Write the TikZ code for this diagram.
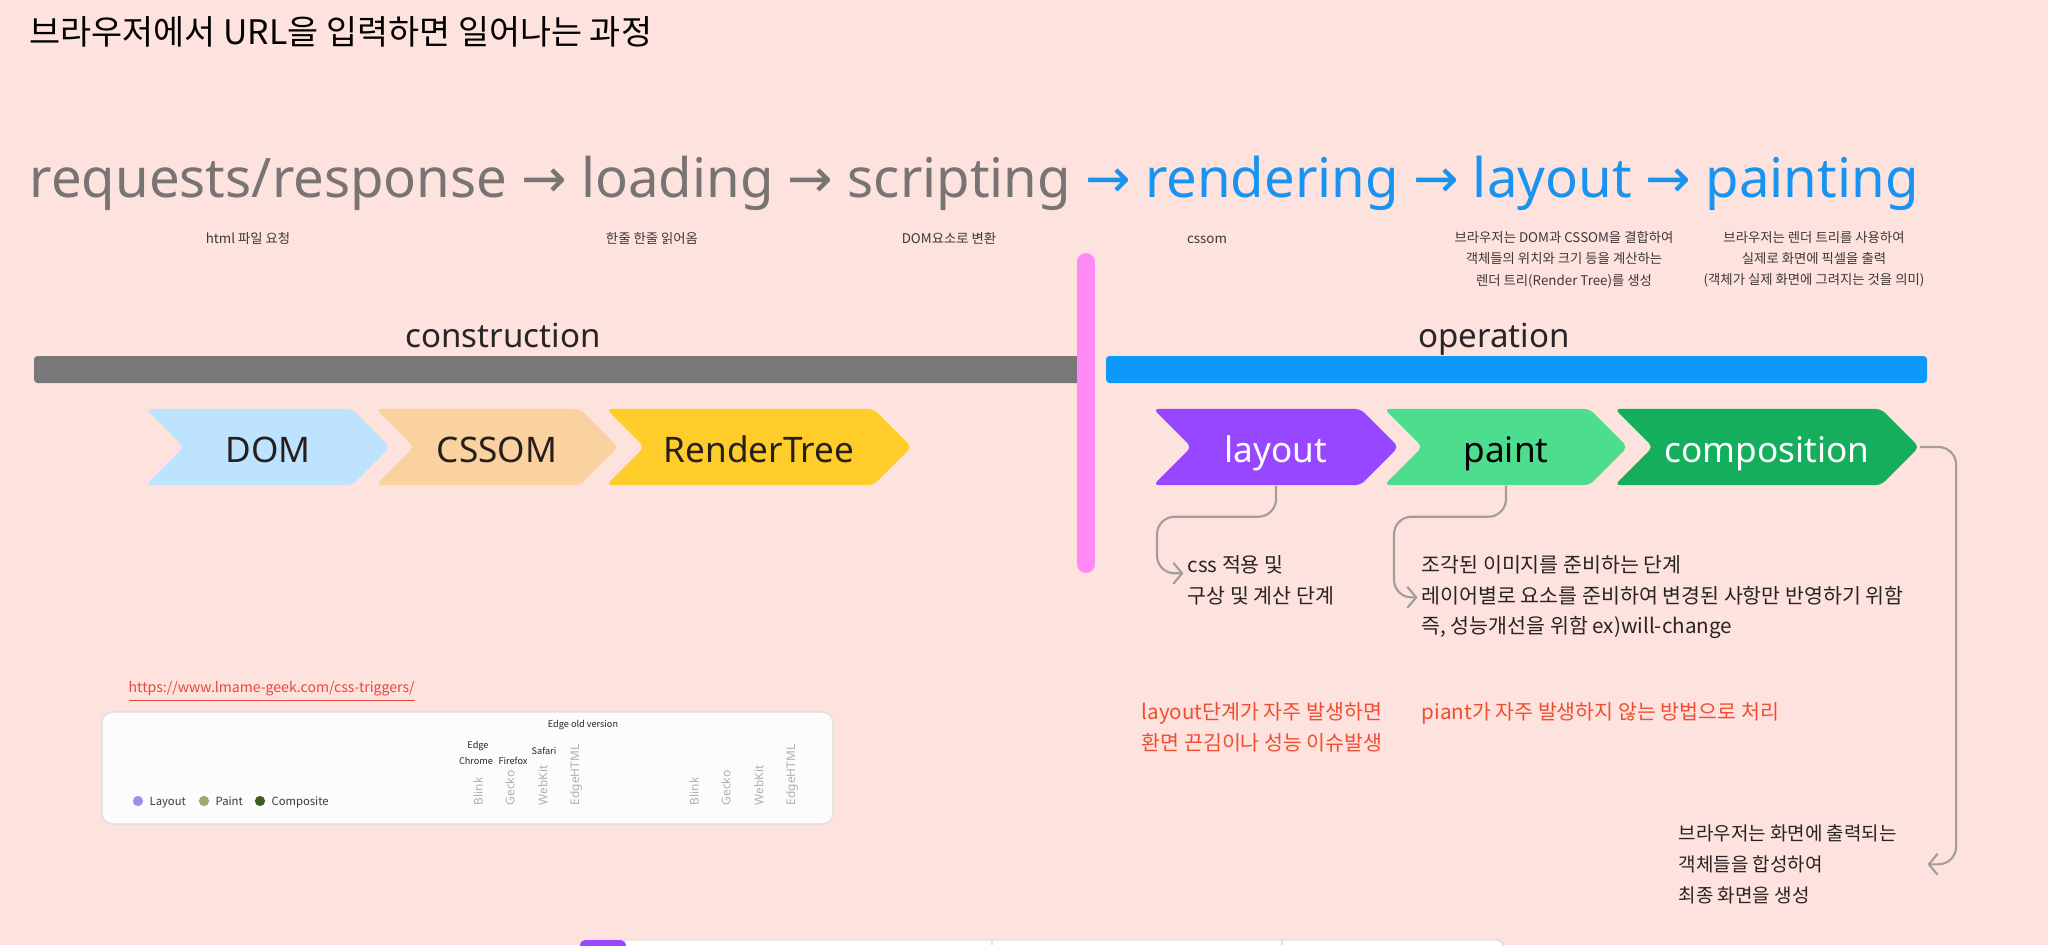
\documentclass[tikz,border=0pt]{standalone}
\usepackage{fontspec}
\setmainfont{Noto Sans CJK KR}
\newfontfamily\latinfont{Noto Sans}
\newfontfamily\arrowfont{DejaVu Sans}
\usetikzlibrary{shapes.symbols,arrows.meta}

\definecolor{bgpink}{RGB}{253,226,221}
\definecolor{flowgrey}{RGB}{120,116,116}
\definecolor{flowblue}{RGB}{24,148,240}
\definecolor{notegrey}{RGB}{60,56,56}
\definecolor{bodytext}{RGB}{40,36,36}
\definecolor{warnred}{RGB}{240,78,50}
\definecolor{urlred}{RGB}{232,72,62}
\definecolor{greybar}{RGB}{122,119,120}
\definecolor{bluebar}{RGB}{13,153,250}
\definecolor{pinkbar}{RGB}{255,138,245}
\definecolor{domblue}{RGB}{189,227,255}
\definecolor{cssompeach}{RGB}{250,210,160}
\definecolor{treeyellow}{RGB}{255,205,41}
\definecolor{layoutpurple}{RGB}{151,71,255}
\definecolor{paintgreen}{RGB}{76,222,142}
\definecolor{compgreen}{RGB}{20,174,92}
\definecolor{chevtext}{RGB}{40,30,30}
\definecolor{conngrey}{RGB}{163,156,156}
\definecolor{cardline}{RGB}{226,220,220}
\definecolor{enginegrey}{RGB}{176,176,176}
\definecolor{dotlayout}{RGB}{155,140,240}
\definecolor{dotpaint}{RGB}{154,170,112}
\definecolor{dotcomp}{RGB}{61,92,30}

\newcommand\arr{{\arrowfont →}}

\tikzset{
  txt/.style={inner sep=0pt},
  note/.style={inner sep=0pt, anchor=base, align=center, text=notegrey,
    font=\fontsize{3.8}{6}\selectfont},
  phase/.style={inner sep=0pt, anchor=base, text=black!85,
    font=\latinfont\fontsize{9.4}{11}\selectfont},
  chevron/.style={signal, signal from=west, signal to=east,
    signal pointer angle=90, minimum height=0.76cm, inner sep=0pt,
    text height=8.6pt, text depth=0pt,
    rounded corners=1.5pt, text=chevtext,
    font=\latinfont\fontsize{10}{12}\selectfont},
  body/.style={inner sep=0pt, anchor=north west, align=left, text=bodytext,
    font=\fontsize{5.85}{8.7}\selectfont},
  warn/.style={body, text=warnred},
  conn/.style={draw=conngrey, line width=0.6pt, rounded corners=5pt,
    -{Straight Barb[length=2.5pt,width=6pt]}},
  tiny/.style={inner sep=0pt, text=bodytext, font=\fontsize{2.6}{3}\selectfont},
  legend/.style={inner sep=0pt, anchor=base west, text=notegrey,
    font=\fontsize{3.2}{4}\selectfont},
  engine/.style={inner sep=0pt, rotate=90, anchor=west, text=enginegrey,
    font=\latinfont\fontsize{3.4}{4}\selectfont},
}

\begin{document}
\begin{tikzpicture}[x=0.01cm,y=-0.01cm]
  \useasboundingbox (0,0) rectangle (2048,945);
  \fill[bgpink] (0,0) rectangle (2048,945);

  % title and flow line
  \node[txt, anchor=base west, font=\fontsize{9.6}{11}\selectfont] (title) at (29,44)
    {브라우저에서 URL을 입력하면 일어나는 과정};
  \node[txt, anchor=base west, text=flowgrey, font=\latinfont\fontsize{15.5}{18}\selectfont] (flow) at (29,197)
    {requests/response \arr{} loading \arr{} scripting \textcolor{flowblue}{\arr{} rendering \arr{} layout \arr{} painting}};

  % step notes
  \node[note] (htmlnote) at (248,243) {html 파일 요청};
  \node[note] (loadnote) at (652,243) {한줄 한줄 읽어옴};
  \node[note] (domnote) at (949,243) {DOM요소로 변환};
  \node[note] (cssomnote) at (1207,243) {cssom};
  \node[note, anchor=north] (layoutnote) at (1564,231)
    {브라우저는 DOM과 CSSOM을 결합하여\\객체들의 위치와 크기 등을 계산하는\\렌더 트리(Render Tree)를 생성};
  \node[note, anchor=north] (paintingnote) at (1814,231)
    {브라우저는 렌더 트리를 사용하여\\실제로 화면에 픽셀을 출력\\(객체가 실제 화면에 그려지는 것을 의미)};

  % phases
  \node[phase] (construction) at (503,347) {construction};
  \node[phase] (operation) at (1494,347) {operation};
  \fill[greybar, rounded corners=1pt] (34,356) rectangle (1082,383);
  \fill[bluebar, rounded corners=1pt] (1106,356) rectangle (1927,383);
  \draw[pinkbar, line width=5.1pt, line cap=round] (1086,262) -- (1086,564);

  % chevrons
  \node[chevron, fill=domblue, minimum width=2.44cm] (dom) at (268,447) {DOM};
  \node[chevron, fill=cssompeach, minimum width=2.42cm] (cssom) at (497,447) {CSSOM};
  \node[chevron, fill=treeyellow, minimum width=3.05cm] (rendertree) at (759,447) {RenderTree};
  \node[chevron, fill=layoutpurple, text=white, minimum width=2.45cm] (layout) at (1276,447) {layout};
  \node[chevron, fill=paintgreen, text=black, minimum width=2.43cm] (paint) at (1506,447) {paint};
  \node[chevron, fill=compgreen, text=white, minimum width=3.04cm] (composition) at (1767,447) {composition};

  % notes below
  \node[body] (cssnote) at (1187,555) {css 적용 및\\구상 및 계산 단계};
  \node[body] (paintnote) at (1421,555)
    {조각된 이미지를 준비하는 단계\\레이어별로 요소를 준비하여 변경된 사항만 반영하기 위함\\즉, 성능개선을 위함 ex)will-change};
  \node[body, font=\fontsize{5.4}{8.8}\selectfont] (compnote) at (1678,824) {브라우저는 화면에 출력되는\\객체들을 합성하여\\최종 화면을 생성};
  \node[warn] (layoutwarn) at (1141,702) {layout단계가 자주 발생하면\\환면 끈김이나 성능 이슈발생};
  \node[warn] (paintwarn) at (1421,702) {piant가 자주 발생하지 않는 방법으로 처리};

  \draw[conn] (layout.south) |- ++(-119,31) |- ([xshift=-1pt,yshift=2pt]cssnote.west);
  \draw[conn] (paint.south) |- ++(-112,31) |- ([xshift=-1pt]paintnote.west);
  \draw[conn] (composition.east) -- ++(36,0) |- ([xshift=8.5pt]compnote.east);

  % css triggers card
  \node[txt, anchor=base west, text=urlred, font=\fontsize{4}{5}\selectfont] (url) at (128,692)
    {\underline{https://www.lmame-geek.com/css-triggers/}};
  \draw[cardline, fill=white!97!black!40, rounded corners=3pt] (102,712) rectangle (833,824);
  \node[tiny] (oldedge) at (583,725) {Edge old version};
  \node[tiny] (edge) at (478,746) {Edge};
  \node[tiny] (chrome) at (476,761) {Chrome};
  \node[tiny] (firefox) at (513,761) {Firefox};
  \node[tiny] (safari) at (544,751) {Safari};
  \fill[dotlayout] (138,801) circle (1.45pt);
  \fill[dotpaint] (204,801) circle (1.45pt);
  \fill[dotcomp] (260,801) circle (1.45pt);
  \node[legend] (layoutkey) at (149,805) {Layout};
  \node[legend] (paintkey) at (215,805) {Paint};
  \node[legend] (compkey) at (271,805) {Composite};
  \foreach \name/\x in {Blink/478, Gecko/510, WebKit/543, EdgeHTML/576, Blink/694, Gecko/726, WebKit/759, EdgeHTML/792}
    \node[engine] (engine\x) at (\x,806) {\name};

  % bottom strip
  \draw[cardline, fill=white, rounded corners=1.5pt] (580,940) rectangle (1503,950);
  \fill[layoutpurple, rounded corners=1.5pt] (580,940) rectangle (626,950);
  \draw[cardline] (992,940) -- (992,945) (1282,940) -- (1282,945);
\end{tikzpicture}
\end{document}
